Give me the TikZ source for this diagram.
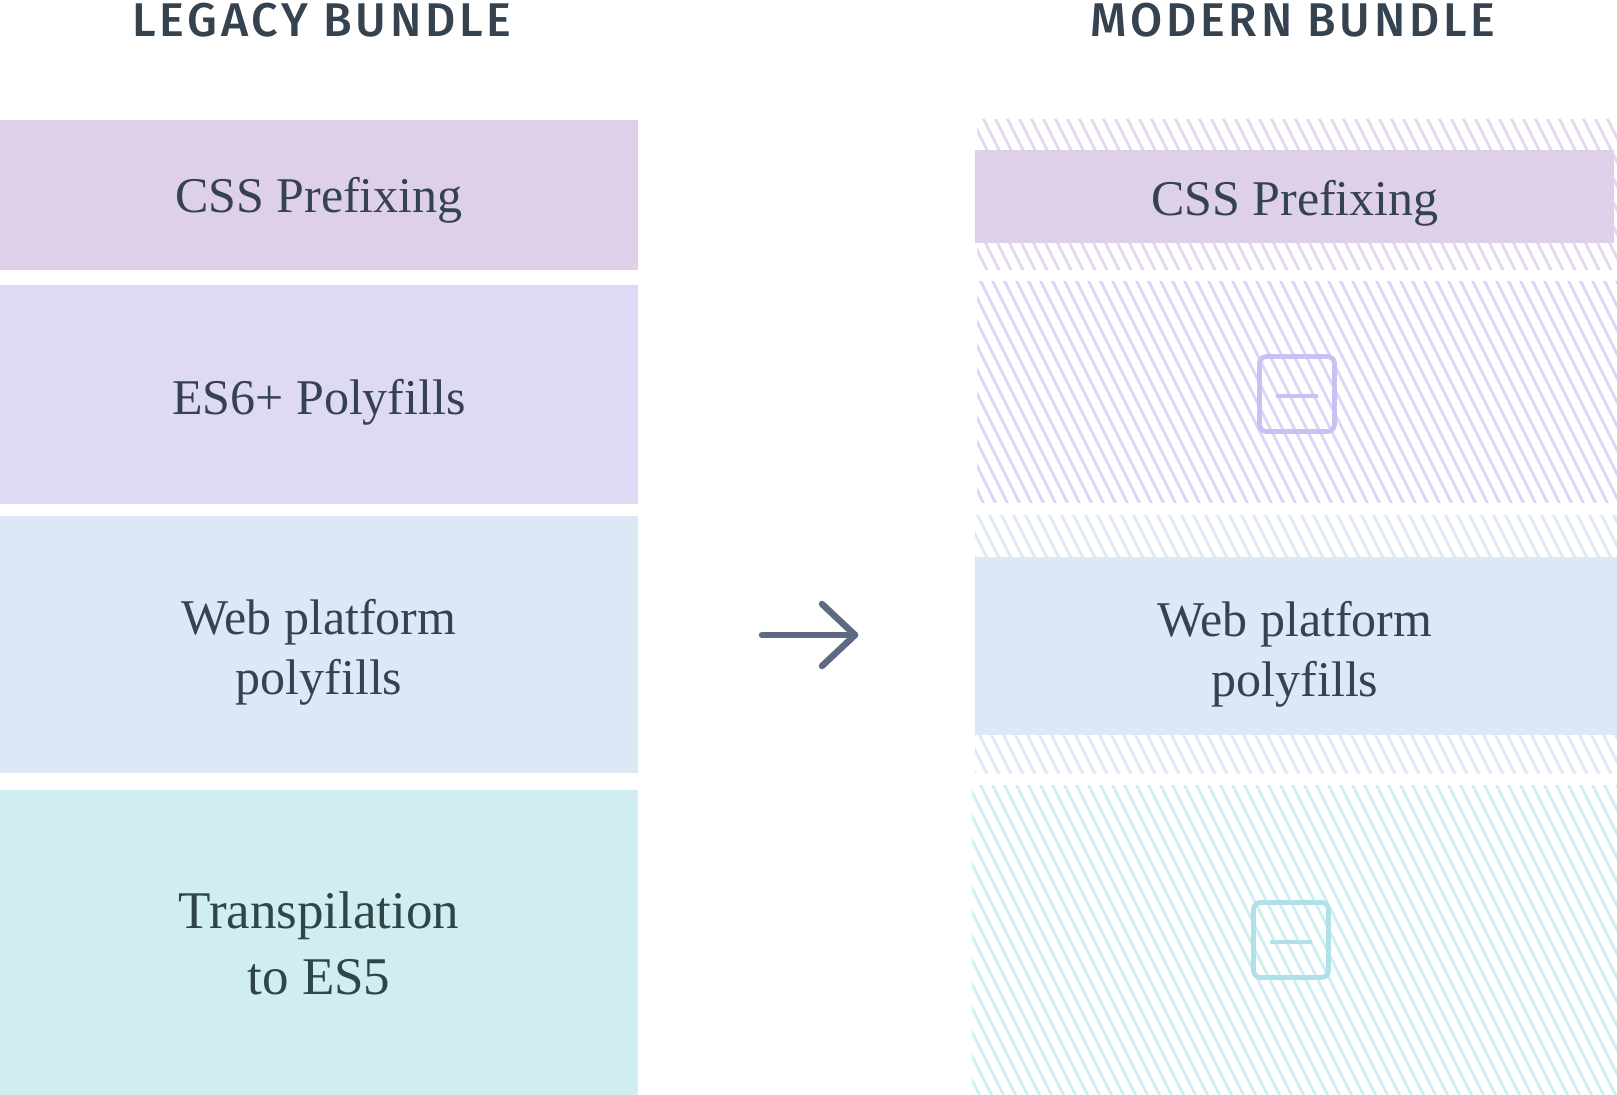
\documentclass[tikz,border=0pt]{standalone}
\usepackage{fontspec}
\usepackage{graphicx}
\setmainfont{Liberation Serif}
\newfontfamily\headfont[LetterSpace=8]{Fira Sans Medium}
\usetikzlibrary{calc}
\definecolor{ink}{HTML}{35424F}
\definecolor{inkteal}{HTML}{2F4547}
\definecolor{boxA}{HTML}{DFD0EA}
\definecolor{boxB}{HTML}{DED9F5}
\definecolor{boxC}{HTML}{DCE8F5}
\definecolor{boxD}{HTML}{D0EDF2}
\definecolor{hatchA}{HTML}{E3D6EE}
\definecolor{hatchB}{HTML}{D9D5F8}
\definecolor{hatchC}{HTML}{DDE8F6}
\definecolor{hatchD}{HTML}{CBEFF3}
\definecolor{iconP}{HTML}{C8C2F4}
\definecolor{iconC}{HTML}{B0E0E8}
\definecolor{arrowc}{HTML}{5E6984}
\newcommand\hatchreg[5]{%
  \begin{scope}
    \clip (#1,#2) rectangle (#3,#4);
    \foreach \k in {25,...,136} \draw[hatchline,#5] (\k*12,0) -- ++(560,1120);
  \end{scope}}
\begin{document}
\begin{tikzpicture}[x=0.5pt,y=-0.5pt,
  boxtext/.style={font=\fontsize{25}{30}\selectfont, text=ink, align=center, inner sep=0pt},
  hatchline/.style={line width=1.35pt},
  iconbox/.style={draw, line width=2.4pt, rounded corners=3.5pt, minimum size=37.5pt, inner sep=0pt},
  iconbar/.style={line width=2.4pt, line cap=round},
  arrowline/.style={line width=3.25pt, draw=arrowc, line cap=round, line join=round},
  headtext/.style={inner sep=0pt, text=ink}]
\useasboundingbox[fill=white] (0,0) rectangle (1617,1095);

% headers
\node[headtext] (hl) at (322,19.8) {\resizebox{189.5pt}{16.7pt}{\headfont LEGACY BUNDLE}};
\node[headtext] (hr) at (1293,19.8) {\resizebox{202pt}{16.7pt}{\headfont MODERN BUNDLE}};

% legacy column
\fill[boxA] (0,120) rectangle (638,270);
\fill[boxB] (0,285) rectangle (638,504);
\fill[boxC] (0,516) rectangle (638,773);
\fill[boxD] (0,790) rectangle (638,1095);
\node[boxtext] (l1) at (319,200) {CSS Prefixing};
\node[boxtext] (l2) at (319,402) {ES6+ Polyfills};
\node[boxtext] (l3) at (319,652) {Web platform\\polyfills};
\node[boxtext, font=\fontsize{26.5}{33}\selectfont, text=inkteal] (l4) at (319,943) {Transpilation\\to ES5};

% modern column: hatched areas
\hatchreg{977}{120}{1617}{270}{draw=hatchA}
\hatchreg{977}{282}{1617}{503}{draw=hatchB}
\hatchreg{975}{516}{1617}{774}{draw=hatchC}
\hatchreg{972}{786}{1617}{1095}{draw=hatchD}

% modern column: kept boxes
\fill[boxA] (975,150) rectangle (1614,243);
\fill[boxC] (975,557) rectangle (1617,735);
\node[boxtext] (r1) at (1295,203) {CSS Prefixing};
\node[boxtext] (r3) at (1295,654) {Web platform\\polyfills};

% removed icons
\node[iconbox, draw=iconP] (ic1) at (1297,394) {};
\draw[iconbar, draw=iconP] ($(ic1.center)+(-19,2)$) -- ($(ic1.center)+(19,2)$);
\node[iconbox, draw=iconC] (ic2) at (1291,940) {};
\draw[iconbar, draw=iconC] ($(ic2.center)+(-19,2)$) -- ($(ic2.center)+(19,2)$);

% arrow
\coordinate (as) at (762,635);
\coordinate (ae) at (855,635);
\draw[arrowline] (as) -- (ae);
\draw[arrowline] ($(ae)+(-33,-31)$) -- (ae) -- ($(ae)+(-33,31)$);
\end{tikzpicture}
\end{document}
